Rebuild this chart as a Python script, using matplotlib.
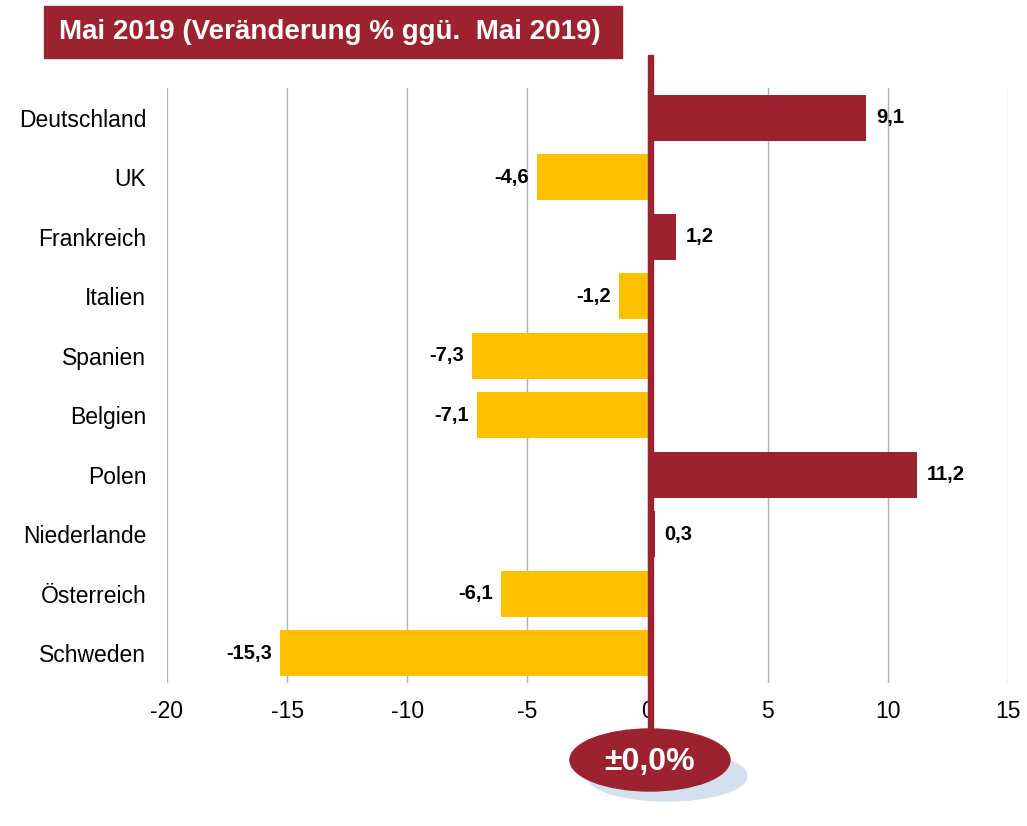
import matplotlib.pyplot as plt
from matplotlib.patches import Ellipse, Rectangle

plt.rcParams['font.family'] = ['Liberation Sans', 'DejaVu Sans']

countries = ['Deutschland', 'UK', 'Frankreich', 'Italien', 'Spanien',
             'Belgien', 'Polen', 'Niederlande', 'Österreich', 'Schweden']
values = [9.1, -4.6, 1.2, -1.2, -7.3, -7.1, 11.2, 0.3, -6.1, -15.3]
xticks = [-20, -15, -10, -5, 0, 5, 10, 15]
title = 'Mai 2019 (Veränderung % ggü.  Mai 2019)'
total_label = '±0,0%'

red = '#9B222E'
yellow = '#FFC000'

fig = plt.figure(figsize=(10.27, 8.26), dpi=100)
ax = fig.add_axes([0.1626, 0.1731, 0.8189, 0.7203])

y = list(range(len(countries)))
colors = [red if v >= 0 else yellow for v in values]
ax.barh(y, values, height=0.77, color=colors, zorder=2)

for yi, v in zip(y, values):
    txt = ('%.1f' % v).replace('.', ',')
    if v >= 0:
        ax.text(v + 0.4, yi, txt, ha='left', va='center', fontsize=14.5,
                fontweight='bold', zorder=3)
    else:
        ax.text(v - 0.33, yi, txt, ha='right', va='center', fontsize=14.5,
                fontweight='bold', zorder=3)

ax.set_xlim(-20, 15)
ax.set_ylim(len(countries) - 0.5, -0.5)
ax.set_yticks(y)
ax.set_yticklabels(countries, fontsize=16.5)
ax.set_xticks(xticks)
ax.set_xticklabels([str(t) for t in xticks], fontsize=16.5)
ax.tick_params(length=0, pad=15, axis='y')
ax.tick_params(length=0, pad=12, axis='x')
for s in ax.spines.values():
    s.set_visible(False)
ax.xaxis.grid(True, color='#b0b0b0', linewidth=1, zorder=0)
ax.set_axisbelow(True)

# red zero line running from the title down to the ellipse
fig.add_artist(Rectangle((650.5 / 1027 - 2.5 / 1027, 1 - 760 / 826), 5 / 1027, 705 / 826,
                         transform=fig.transFigure, color=red, zorder=5))

# title box
fig.add_artist(Rectangle((44 / 1027, 1 - 58 / 826), 578 / 1027, 52 / 826,
                         transform=fig.transFigure, color=red, zorder=6))
fig.text(330 / 1027, 1 - 32 / 826, title, ha='center', va='center', color='white',
         fontsize=20, fontweight='bold', zorder=7)

# total ellipse with shadow
fig.add_artist(Ellipse((667 / 1027, 1 - 776 / 826), 160 / 1027, 50 / 826,
                       transform=fig.transFigure, color='#d3e1ef', zorder=6))
fig.add_artist(Ellipse((650 / 1027, 1 - 760 / 826), 160 / 1027, 62 / 826,
                       transform=fig.transFigure, color=red, zorder=7))
fig.text(650 / 1027, 1 - 762 / 826, total_label, ha='center', va='center', color='white',
         fontsize=23, fontweight='bold', zorder=8)

fig.savefig('out.png', dpi=100)
